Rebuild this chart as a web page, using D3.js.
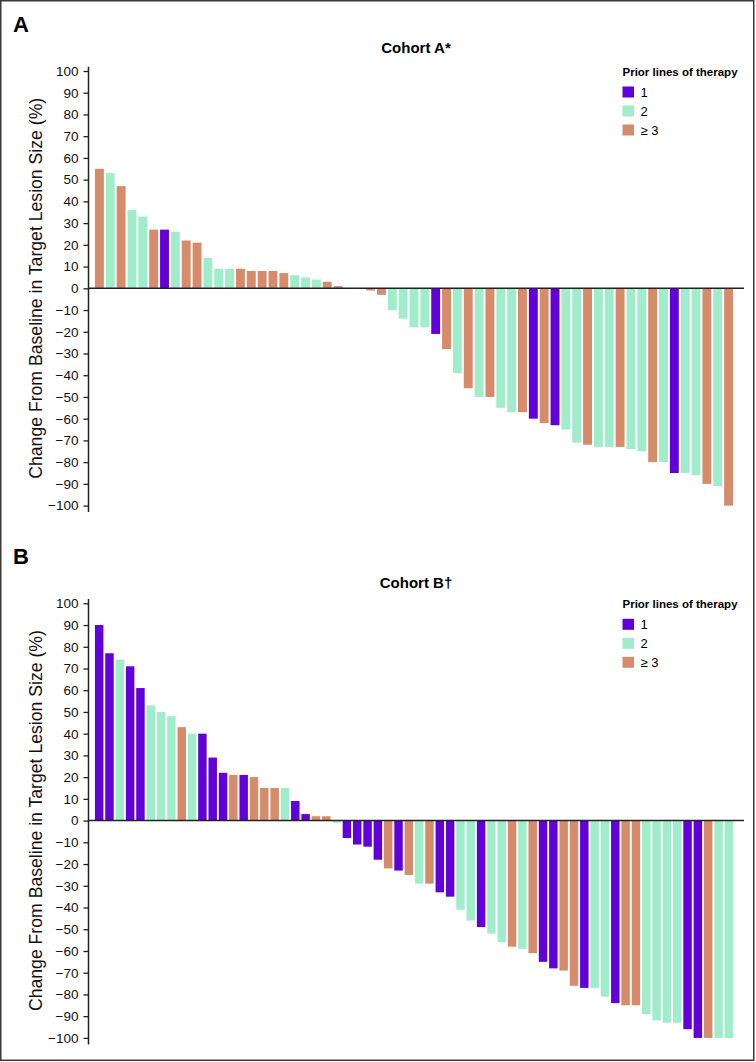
<!DOCTYPE html>
<html>
<head>
<meta charset="utf-8">
<script src="https://cdn.jsdelivr.net/npm/d3@7"></script>
<style>
    body { margin: 0; background: #fff; }
    text { font-family: "Liberation Sans", Arial, sans-serif; }
</style>
</head>
<body>
<script>
// prior lines of therapy: 1, 2, >= 3
const lineGroups = ['1', '2', '\u2265 3']
const lineColors = ['#6200d9', '#a0edcb', '#d68b6b']

const yTicks = [-100, -90, -80, -70, -60, -50, -40, -30, -20, -10, 0, 10, 20, 30, 40, 50, 60, 70, 80, 90, 100]

// cohort A, one entry per patient (0 = line 1, 1 = line 2, 2 = line >= 3)
const cohortAValues = [55, 53, 47, 36, 33, 27, 27, 26, 22, 21, 14, 9, 9, 9, 8, 8, 8, 7, 6, 5, 4, 3, 1,
    0, 0,
    -1, -3, -10, -14, -18, -18, -21, -28, -39, -46, -50, -50, -55, -57, -57, -60, -62, -63,
    -65, -71, -72, -73, -73, -73, -74, -75, -80, -80, -85, -85, -86, -90, -91, -100]
const cohortAGroups = [2, 1, 2, 1, 1, 2, 0, 1, 2, 2, 1, 1, 1, 2, 2, 2, 2, 2, 1, 1, 1, 2, 2,
    1, 2,
    2, 2, 1, 1, 1, 1, 0, 2, 1, 2, 1, 2, 1, 1, 2, 0, 2, 0,
    1, 1, 2, 1, 1, 2, 1, 1, 2, 1, 0, 1, 1, 2, 1, 2]

// cohort B
const cohortBValues = [90, 77, 74, 71, 61, 53, 50, 48, 43, 40, 40, 29, 22, 21, 21, 20, 15, 15, 15, 9, 3, 2, 2,
    -1, -8, -11, -12, -18, -22, -23, -25, -29, -29, -33, -35, -41, -46, -49, -52, -56, -58, -59, -61,
    -65, -68, -69, -76, -77, -77, -81, -84, -85, -85, -89, -92, -93, -93, -96, -100, -100, -100, -100]
const cohortBGroups = [0, 0, 1, 0, 0, 1, 1, 1, 2, 1, 0, 0, 0, 2, 0, 2, 2, 2, 1, 0, 0, 2, 2,
    1, 0, 0, 0, 0, 2, 0, 2, 1, 2, 0, 0, 1, 1, 0, 1, 1, 2, 1, 2,
    0, 0, 2, 2, 0, 1, 1, 0, 2, 2, 1, 1, 1, 1, 0, 0, 2, 1, 1]

const m = {
    width: 756,
    height: 1062
}

const svg = d3.select('body').append('svg')
    .attr('width', m.width)
    .attr('height', m.height)

// thin frame round the whole figure
svg.append('rect')
    .attr('x', 0.75)
    .attr('y', 0.75)
    .attr('width', 753)
    .attr('height', 1059.5)
    .attr('fill', 'none')
    .attr('stroke', '#3a3a3a')
    .attr('stroke-width', 1.5)

function drawPanel(letter, title, values, groups, top) {
    const g = svg.append('g').attr('transform', 'translate(0,' + top + ')')

    const x = d3.scaleBand()
        .domain(d3.range(values.length))
        .range([94, 734])
        .paddingInner(0.18)
        .paddingOuter(0.09)

    const y = d3.scaleLinear()
        .domain([-100, 100])
        .range([505.6, 71])

    g.append('text')
        .attr('x', 13)
        .attr('y', 31.5)
        .attr('font-size', 22)
        .attr('font-weight', 'bold')
        .text(letter)

    g.append('text')
        .attr('x', 416)
        .attr('y', title.titleY)
        .attr('text-anchor', 'middle')
        .attr('font-size', 15)
        .attr('font-weight', 'bold')
        .text(title.text)

    g.selectAll('.bar')
        .data(values)
        .enter()
        .append('rect')
        .attr('class', 'bar')
        .attr('x', function (d, i) { return x(i) })
        .attr('width', x.bandwidth())
        .attr('y', function (d) { return d >= 0 ? y(d) : y(0) })
        .attr('height', function (d) { return Math.abs(y(d) - y(0)) })
        .attr('fill', function (d, i) { return lineColors[groups[i]] })

    const axis = g.append('g')
        .attr('transform', 'translate(88.5,0)')
        .call(d3.axisLeft(y)
            .tickValues(yTicks)
            .tickSize(5)
            .tickPadding(5)
            .tickFormat(function (d) { return d < 0 ? '\u2212' + Math.abs(d) : d }))

    axis.select('.domain').remove()
    axis.selectAll('.tick line')
        .attr('stroke', '#222')
        .attr('stroke-width', 1.3)
    axis.selectAll('.tick text')
        .attr('font-size', 13.5)
        .attr('fill', '#111')
        .style('font-family', '"Liberation Sans", Arial, sans-serif')

    g.append('line')
        .attr('x1', 88.5)
        .attr('x2', 88.5)
        .attr('y1', y(102))
        .attr('y2', y(-103))
        .attr('stroke', '#222')
        .attr('stroke-width', 1.5)

    g.append('line')
        .attr('x1', 88)
        .attr('x2', 744)
        .attr('y1', y(0))
        .attr('y2', y(0))
        .attr('stroke', '#222')
        .attr('stroke-width', 1.5)

    g.append('text')
        .attr('transform', 'translate(42,' + y(0) + ') rotate(-90)')
        .attr('text-anchor', 'middle')
        .attr('font-size', 17.5)
        .attr('textLength', 381)
        .attr('lengthAdjust', 'spacingAndGlyphs')
        .style('font-family', '"Liberation Sans Narrow", "Liberation Sans", Arial, sans-serif')
        .attr('fill', '#111')
        .text('Change From Baseline in Target Lesion Size (%)')

    // legend
    const legend = g.append('g')
    legend.append('text')
        .attr('x', 622.5)
        .attr('y', 76)
        .attr('font-size', 11.5)
        .attr('font-weight', 'bold')
        .text('Prior lines of therapy')

    const rows = legend.selectAll('.row')
        .data(lineGroups)
        .enter()
        .append('g')
        .attr('class', 'row')
        .attr('transform', function (d, i) { return 'translate(622.5,' + (86.5 + i * 19) + ')' })

    rows.append('rect')
        .attr('width', 11.5)
        .attr('height', 11)
        .attr('fill', function (d, i) { return lineColors[i] })

    rows.append('text')
        .attr('x', 18)
        .attr('y', 10.5)
        .attr('font-size', 13)
        .text(function (d) { return d })
}

drawPanel('A', { text: 'Cohort A*', titleY: 53 }, cohortAValues, cohortAGroups, 0)
drawPanel('B', { text: 'Cohort B\u2020', titleY: 56 }, cohortBValues, cohortBGroups, 532.3)
</script>
</body>
</html>
